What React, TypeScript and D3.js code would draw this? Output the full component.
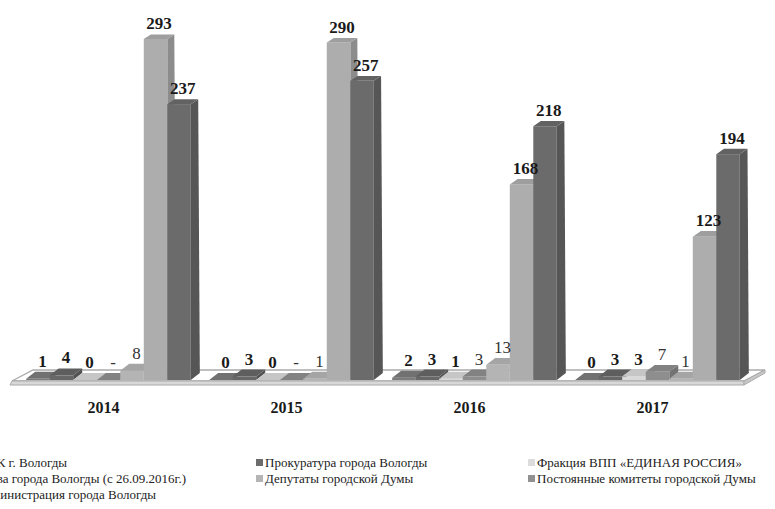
import React from "react";
import * as d3 from "d3";

const years = ["2014", "2015", "2016", "2017"];

const seriesNames = [
  "ТИК г. Вологды",
  "Прокуратура  города Вологды",
  "Фракция  ВПП «ЕДИНАЯ РОССИЯ»",
  "Глава города Вологды (с 26.09.2016г.)",
  "Постоянные комитеты городской Думы",
  "Депутаты городской Думы",
  "Администрация  города Вологды",
];

// values per series, one per year; null shown as "-"
const s1 = [1, 0, 2, 0];
const s2 = [4, 3, 3, 3];
const s3 = [0, 0, 1, 3];
const s4: (number | null)[] = [null, null, 3, 7];
const s5 = [8, 1, 13, 1];
const s6 = [293, 290, 168, 123];
const s7 = [237, 257, 218, 194];
const seriesValues: (number | null)[][] = [s1, s2, s3, s4, s5, s6, s7];

const barColors = ["#7b7b7b", "#676767", "#d9d9d9", "#8e8e8e", "#b4b4b4", "#adadad", "#6b6b6b"];
const swatchColors = ["#7b7b7b", "#6c6c6c", "#dcdcdc", "#8e8e8e", "#919191", "#b5b5b5", "#6b6b6b"];
const boldLabels = [true, true, true, false, false, true, true];

// legend layout: [column, row] per series
const legendSlots: [number, number][] = [
  [0, 0], [1, 0], [2, 0], [0, 1], [2, 1], [1, 1], [0, 2],
];
// first column is clipped at the left: anchored by its text end
const col0Ends = [67, 186, 156];

const W = 775;
const H = 509;
const FONT = "Liberation Serif, Tinos, Times New Roman, DejaVu Serif, serif";

export default function App() {
  const baseY = 380;
  const floorFront = 381;
  const floorBack = 370;
  const floorDx = 21;
  const x = d3.scaleBand<string>().domain(years).range([12, 744]).padding(0);
  const inner = d3
    .scaleBand<number>()
    .domain(d3.range(seriesNames.length))
    .range([0, x.bandwidth()])
    .paddingInner(0)
    .paddingOuter(0.39);
  const y = d3.scaleLinear().domain([0, 300]).range([baseY, baseY - 349.2]);
  const shift = 5;
  const w = inner.bandwidth();

  const bars: React.ReactNode[] = [];
  const labels: React.ReactNode[] = [];
  years.forEach((yr, yi) => {
    seriesValues.forEach((vals, si) => {
      const v = vals[yi];
      const val = v == null ? 0 : v;
      const x0 = (x(yr) as number) + (inner(si) as number) + shift;
      const yT = y(val);
      const t = (baseY - yT) / 341;
      const dx = 9 - 2 * t;
      const dy = -7 + 2.5 * t;
      const c = d3.color(barColors[si])!;
      const top = c.darker(0.25).formatHex();
      const side = c.darker(0.6).formatHex();
      const pts = (a: [number, number][]) => a.map((p) => p.join(",")).join(" ");
      bars.push(
        <g key={`b-${yi}-${si}`}>
          <polygon
            points={pts([[x0 + w, yT], [x0 + w + dx, yT + dy], [x0 + w + 9, baseY - 7], [x0 + w, baseY]])}
            fill={side}
          />
          {val > 0 && <rect x={x0} y={yT} width={w} height={baseY - yT} fill={barColors[si]} />}
          <polygon
            points={pts([[x0, yT], [x0 + w, yT], [x0 + w + dx, yT + dy], [x0 + dx, yT + dy]])}
            fill={top}
          />
        </g>
      );
      labels.push(
        <text
          key={`l-${yi}-${si}`}
          x={x0 + w / 2 + dx / 2}
          y={yT + dy - 5}
          textAnchor="middle"
          style={{ fontFamily: FONT }}
          fontSize={17}
          fontWeight={boldLabels[si] ? "bold" : "normal"}
          fill={boldLabels[si] ? "#1a1a1a" : "#333"}
        >
          {v == null ? "-" : String(v)}
        </text>
      );
    });
  });

  const x0f = 12;
  const x1f = 744;
  const colX = [0, 256, 528];
  const rowY = [467, 483, 499];

  return (
    <svg
      width={W}
      height={H}
      style={{ position: "fixed", left: 0, top: 0, background: "#fff" }}
    >
      {/* floor */}
      <polygon
        points={`${x0f},${floorFront} ${x1f},${floorFront} ${x1f + floorDx},${floorBack} ${x0f + floorDx},${floorBack}`}
        fill="#fff"
        stroke="#aaaaaa"
        strokeWidth={1.3}
      />
      <polygon
        points={`${x0f},${floorFront} ${x1f},${floorFront} ${x1f},${floorFront + 4} ${x0f - 2},${floorFront + 4}`}
        fill="#d8d8d8"
        stroke="#aaaaaa"
        strokeWidth={1}
      />
      <polygon
        points={`${x1f},${floorFront} ${x1f + floorDx},${floorBack} ${x1f + floorDx},${floorBack + 3} ${x1f},${floorFront + 4}`}
        fill="#c8c8c8"
        stroke="#aaaaaa"
        strokeWidth={1}
      />
      {bars}
      {labels}
      {years.map((yr) => (
        <text
          key={yr}
          x={(x(yr) as number) + x.bandwidth() / 2}
          y={413}
          textAnchor="middle"
          style={{ fontFamily: FONT }}
          fontSize={16}
          fontWeight="bold"
          fill="#1a1a1a"
        >
          {yr}
        </text>
      ))}
      {seriesNames.map((name, si) => {
        const [col, row] = legendSlots[si];
        const ly = rowY[row];
        if (col === 0) {
          return (
            <text key={name} x={col0Ends[row]} y={ly} textAnchor="end" style={{ fontFamily: FONT }} fontSize={13} fill="#222">
              {name}
            </text>
          );
        }
        return (
          <g key={name}>
            <rect x={colX[col]} y={ly - 8} width={7} height={7} fill={swatchColors[si]} />
            <text x={colX[col] + 9} y={ly} style={{ fontFamily: FONT }} fontSize={13} fill="#222">
              {name}
            </text>
          </g>
        );
      })}
    </svg>
  );
}
